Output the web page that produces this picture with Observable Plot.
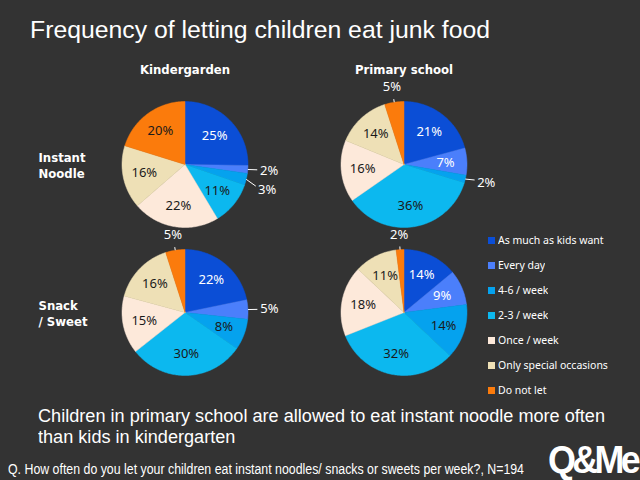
<!DOCTYPE html>
<html>
<head>
<meta charset="utf-8">
<script src="https://cdn.jsdelivr.net/npm/d3@7"></script>
<script src="https://cdn.jsdelivr.net/npm/@observablehq/plot@0.6"></script>
<style>
html, body { margin: 0; padding: 0; background: #333333; }
#wrap { position: relative; width: 640px; height: 480px; background: #333333; overflow: hidden; color: #ffffff; font-family: "Liberation Sans", Arial, sans-serif; }
.abs { position: absolute; white-space: nowrap; }
.fit { display: inline-block; transform-origin: 0 0; }
#title { left: 30px; top: 18px; font-size: 24.8px; line-height: 1; }
#msg1 { left: 38px; top: 405.7px; font-size: 17.5px; line-height: 21px; }
#msg2 { left: 38px; top: 426.7px; font-size: 17.5px; line-height: 21px; }
#note { left: 8px; top: 461.5px; font-size: 14px; line-height: 1; }
#logo { left: 548px; top: 440px; font-size: 39px; line-height: 1; font-weight: bold; letter-spacing: -4px; }
#chart { position: absolute; left: 0; top: 50px; }
#legend { position: absolute; left: 488px; top: 227.5px; }
.lg-swatch { height: 25px !important; margin: 0 !important; padding: 0 !important; display: flex !important; align-items: center !important; }
.lg-swatch svg { margin-right: 3px !important; }
</style>
</head>
<body>
<div id="wrap">
  <div id="title" class="abs"><span class="fit" data-w="460"></span></div>
  <div id="chart"></div>
  <div id="legend"></div>
  <div id="msg1" class="abs"><span class="fit" data-w="567"></span></div>
  <div id="msg2" class="abs"><span class="fit"></span></div>
  <div id="note" class="abs"><span class="fit" data-w="516"></span></div>
  <div id="logo" class="abs"><span class="fit" data-w="89"></span></div>
</div>
<script>
// ---- data ----
const titleText = "Frequency of letting children eat junk food";
const messageLines = ["Children in primary school are allowed to eat instant noodle more often", "than kids in kindergarten"];
const noteText = "Q. How often do you let your children eat instant noodles/ snacks or sweets per week?, N=194";
const logoText = "Q&Me";

const categories = ["As much as kids want", "Every day", "4-6 / week", "2-3 / week", "Once / week", "Only special occasions", "Do not let"];
const colors = ["#0b4ed6", "#4b7ffb", "#05a2ee", "#0cb8ef", "#fde9da", "#eee0b6", "#fb7b0c"];
const schools = ["Kindergarden", "Primary school"];
const foods = ["Instant Noodle", "Snack / Sweet"];
const rowLabels = ["Instant\nNoodle", "Snack\n/ Sweet"];

const kgNoodle = [25, 2, 3, 11, 22, 16, 20];
const psNoodle = [21, 7, 2, 36, 16, 14, 5];
const kgSnack  = [22, 5, 8, 30, 15, 16, 5];
const psSnack  = [14, 9, 14, 32, 18, 11, 2];

// ---- text ----
document.querySelector("#title .fit").textContent = titleText;
document.querySelector("#msg1 .fit").textContent = messageLines[0];
document.querySelector("#msg2 .fit").textContent = messageLines[1];
document.querySelector("#note .fit").textContent = noteText;
document.querySelector("#logo .fit").textContent = logoText;

// ---- geometry derived from data ----
const R = 63;            // pie radius (px)
const cellW = 219, cellH = 148;
const rIn = 0.66, rOut = 1.24;

const pieSeries = [
  {school: schools[0], food: foods[0], values: kgNoodle},
  {school: schools[1], food: foods[0], values: psNoodle},
  {school: schools[0], food: foods[1], values: kgSnack},
  {school: schools[1], food: foods[1], values: psSnack}
];

const pie = d3.pie().sort(null).value(d => d.value);
const slices = [], labels = [], leaders = [];
for (const s of pieSeries) {
  const arcs = pie(s.values.map((value, i) => ({value, i, cat: categories[i]})));
  let prevOut = null;
  for (const a of arcs) {
    const base = {school: s.school, food: s.food, cat: a.data.cat};
    slices.push({...base, x: 0, y: 0});
    const n = Math.max(2, Math.ceil((a.endAngle - a.startAngle) / (Math.PI / 180)));
    for (let k = 0; k <= n; k++) {
      const t = a.startAngle + (a.endAngle - a.startAngle) * k / n;
      slices.push({...base, x: Math.sin(t), y: Math.cos(t)});
    }
    slices.push({...base, x: 0, y: 0});
    const mid = (a.startAngle + a.endAngle) / 2;
    const outside = a.data.value < 6;
    const rr = outside ? rOut : rIn;
    let lx = Math.sin(mid) * rr, ly = Math.cos(mid) * rr;
    if (outside && lx > 0.8) lx += 0.1;
    if (outside && prevOut && Math.abs(lx - prevOut.x) < 0.5 && Math.abs(ly - prevOut.y) < 0.3) {
      ly = prevOut.y + (lx > 0 ? -0.3 : 0.3);
    }
    const lab = {...base, x: lx, y: ly, text: a.data.value + "%", light: outside || a.data.i < 2};
    labels.push(lab);
    if (outside) {
      prevOut = lab;
      const d = Math.hypot(lx, ly);
      leaders.push({...base, x1: Math.sin(mid) * 1.0, y1: Math.cos(mid) * 1.0, x2: lx * (d - 0.19) / d, y2: ly * (d - 0.19) / d});
    }
  }
}

const chart = Plot.plot({
  width: 513,
  height: 340,
  marginLeft: 75, marginRight: 0, marginTop: 40, marginBottom: 4,
  x: {domain: [-cellW / 2 / R, cellW / 2 / R], axis: null},
  y: {domain: [-cellH / 2 / R, cellH / 2 / R], axis: null},
  fx: {domain: schools, padding: 0, axis: null},
  fy: {domain: foods, padding: 0, axis: null},
  color: {type: "ordinal", domain: categories, range: colors},
  style: {background: "transparent", color: "white", overflow: "visible"},
  marks: [
    Plot.line(slices, {fx: "school", fy: "food", x: "x", y: "y", z: "cat", fill: "cat", stroke: "cat", strokeWidth: 0.5, curve: "linear"}),
    Plot.link(leaders, {fx: "school", fy: "food", x1: "x1", y1: "y1", x2: "x2", y2: "y2", stroke: "#ffffff", strokeWidth: 1}),
    Plot.text(labels.filter(d => d.light), {fx: "school", fy: "food", x: "x", y: "y", text: "text", fill: "#ffffff", fontSize: 13, fontFamily: "Noto Sans"}),
    Plot.text(labels.filter(d => !d.light), {fx: "school", fy: "food", x: "x", y: "y", text: "text", fill: "#1a1a1a", fontSize: 13, fontFamily: "Noto Sans"}),
    Plot.text(schools, {fx: d => d, fy: () => foods[0], text: d => d, frameAnchor: "top", lineAnchor: "middle", dy: -20, fill: "#ffffff", fontSize: 11.7, fontWeight: "bold", fontFamily: "DejaVu Sans"}),
    Plot.text(foods, {fy: d => d, fx: () => schools[0], text: (d, i) => rowLabels[i], frameAnchor: "left", textAnchor: "start", lineAnchor: "middle", dx: -37, lineHeight: 1.43, fill: "#ffffff", fontSize: 11.7, fontWeight: "bold", fontFamily: "DejaVu Sans"})
  ]
});
document.getElementById("chart").appendChild(chart);

const legend = Plot.legend({
  color: {type: "ordinal", domain: categories, range: colors},
  legend: "swatches",
  columns: 1,
  swatchSize: 7,
  className: "lg",
  style: {color: "#ffffff", fontSize: "10.5px", fontFamily: "Noto Sans", background: "transparent", margin: "0"}
});
document.getElementById("legend").appendChild(legend);

// horizontal fitting of text blocks
for (const el of document.querySelectorAll(".fit[data-w]")) {
  const w = el.getBoundingClientRect().width;
  const target = +el.dataset.w;
  if (w > 0) el.style.transform = `scaleX(${target / w})`;
}
const s1 = document.querySelector("#msg1 .fit").style.transform;
document.querySelector("#msg2 .fit").style.transform = s1;
</script>
</body>
</html>
